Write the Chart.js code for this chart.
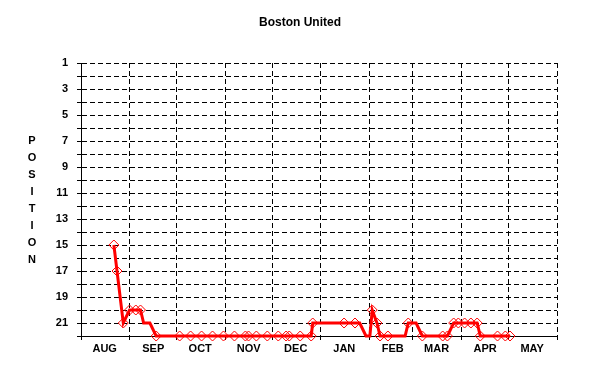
<!DOCTYPE html>
<html>
<head>
<meta charset="utf-8">
<script src="https://cdn.jsdelivr.net/npm/chart.js@4/dist/chart.umd.min.js"></script>
<style>
  body { margin: 0; background: #fff; }
  canvas { display: block; }
</style>
</head>
<body>
<canvas id="chart" width="608" height="385"></canvas>
<script>
// Season runs from 1 Aug (day 0) to 31 May (day 304)
const monthLabels = ["AUG", "SEP", "OCT", "NOV", "DEC", "JAN", "FEB", "MAR", "APR", "MAY"];
const monthStarts = [0, 31, 61, 92, 122, 153, 184, 212, 243, 273, 304];

// League position after each match (day of season)
const matchDays = [21, 23, 27, 31, 35, 38, 48, 63, 70, 77, 84, 91, 98, 105, 107, 112, 119, 126, 131, 133,
  140, 147, 148, 168, 175, 186, 189, 191, 196, 209, 218, 231, 234, 238, 241, 245, 249, 253, 255, 266, 271, 274];
const matchPos = [15, 17, 21, 20, 20, 20, 22, 22, 22, 22, 22, 22, 22, 22, 22, 22, 22, 22, 22, 22,
  22, 22, 21, 21, 21, 20, 21, 22, 22, 21, 22, 22, 22, 21, 21, 21, 21, 21, 22, 22, 22, 22];

// Position changes between matches (no marker)
const bendDays = [40, 44, 178, 182, 184.5, 207, 214];
const bendPos = [21, 21, 21, 22, 22, 22, 21];

const yTitle = "POSITION";

document.addEventListener("DOMContentLoaded", () => {
  const track = matchDays.map((d, i) => ({ x: d, y: matchPos[i] }))
    .concat(bendDays.map((d, i) => ({ x: d, y: bendPos[i] })))
    .sort((a, b) => a.x - b.x);
  const matches = matchDays.map((d, i) => ({ x: d, y: matchPos[i] }));

  // Title and stacked y-axis title
  const textPlugin = {
    id: "textPlugin",
    afterDraw(chart) {
      const ctx = chart.ctx;
      ctx.save();
      ctx.fillStyle = "#000";
      ctx.textAlign = "center";
      ctx.textBaseline = "middle";
      ctx.font = "bold 12px 'Liberation Sans', Arial, sans-serif";
      ctx.fillText("Boston United", 300, 23);
      ctx.font = "bold 11px 'Liberation Sans', Arial, sans-serif";
      [...yTitle].forEach((ch, i) => ctx.fillText(ch, 32, 141 + i * 17));
      ctx.restore();
    }
  };

  const font = { family: "'Liberation Sans', Arial, sans-serif", size: 11, weight: "bold" };

  new Chart(document.getElementById("chart"), {
    type: "line",
    data: {
      datasets: [
        {
          data: matches,
          showLine: false,
          pointStyle: "rectRot",
          pointRadius: 5,
          pointBorderColor: "#ff0000",
          pointBackgroundColor: "rgba(255,255,255,0)",
          pointBorderWidth: 1,
          clip: false,
          order: 0
        },
        {
          data: track,
          borderColor: "#ff0000",
          borderWidth: 3,
          pointRadius: 0,
          tension: 0,
          clip: false,
          order: 1
        }
      ]
    },
    options: {
      responsive: false,
      animation: false,
      layout: { padding: { top: 63, right: 51, left: 0, bottom: 0 } },
      plugins: {
        legend: { display: false },
        tooltip: { enabled: false },
        title: { display: false }
      },
      scales: {
        x: {
          type: "linear",
          min: 0,
          max: 304,
          afterFit: s => { s.height = 49; },
          afterBuildTicks: s => { s.ticks = monthStarts.map(v => ({ value: v })); },
          ticks: {
            autoSkip: false,
            maxRotation: 0,
            labelOffset: 23.7,
            padding: 2,
            color: "#000",
            font,
            callback: (v, i) => monthLabels[i] || ""
          },
          grid: { color: "#000", lineWidth: 1, tickLength: 4 },
          border: { color: "#000", width: 1, dash: [5, 3] }
        },
        y: {
          type: "linear",
          reverse: true,
          min: 1,
          max: 22,
          afterFit: s => { s.width = 81; },
          ticks: {
            stepSize: 1,
            autoSkip: false,
            padding: 9,
            color: "#000",
            font,
            callback: v => (v % 2 === 1 ? v : "")
          },
          grid: { color: "#000", lineWidth: 1, tickLength: 4 },
          border: { color: "#000", width: 1, dash: [5, 3] }
        }
      }
    },
    plugins: [textPlugin]
  });
});
</script>
</body>
</html>
